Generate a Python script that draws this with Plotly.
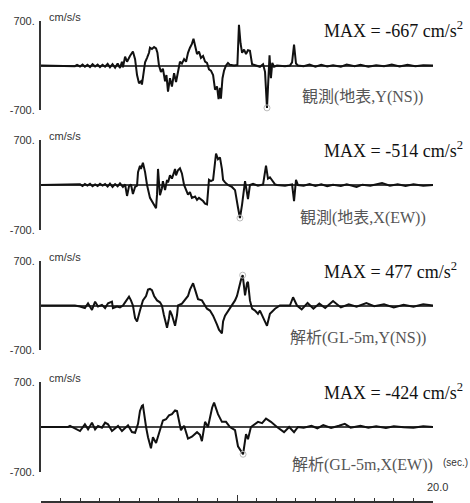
import plotly.graph_objects as go

W, H = 470, 503

# ---------------- data (time [s], acceleration [cm/s/s]) ----------------
obs_ns_t = [0, 1.58, 1.73, 1.84, 1.99, 2.12, 2.24, 2.37, 2.5, 2.63, 2.76, 2.89, 3.01, 3.14, 3.27, 3.4,
            3.52, 3.65, 3.78, 3.91, 4.03, 4.13, 4.18, 4.29, 4.39, 4.54, 4.69, 4.80, 4.90, 5.00,
            5.10, 5.15, 5.23, 5.31, 5.41, 5.51, 5.56, 5.66, 5.77, 5.87, 5.94, 6.02, 6.12, 6.22,
            6.33, 6.40, 6.48, 6.58, 6.68, 6.79, 6.89, 6.99, 7.09, 7.19, 7.30, 7.40, 7.50, 7.60,
            7.70, 7.78, 7.86, 7.96, 8.06, 8.16, 8.27, 8.37, 8.47, 8.57, 8.67, 8.78, 8.88, 8.98,
            9.06, 9.13, 9.18, 9.26, 9.34, 9.44, 9.54, 9.64, 9.85, 10.02, 10.10, 10.18, 10.26,
            10.36, 10.46, 10.56, 10.66, 10.77, 10.97, 11.17, 11.33, 11.43, 11.53, 11.60, 11.66,
            11.73, 11.80, 11.89, 12.04, 12.45, 12.70, 12.81, 12.91, 13.01, 13.11,
            13.4, 13.7, 14.0, 14.3, 14.6, 14.9, 15.3, 15.6, 16.0, 16.3, 16.7, 17.1, 17.5, 17.9,
            18.3, 18.7, 19.1, 19.5, 20.0]
obs_ns_a = [0, 0, -10, 10, -15, 15, -20, 10, -25, 20, -15, 15, -25, 10, -20, 25,
            -30, 20, -35, 30, -40, 60, -30, 140, 60, 150, 220, 100, -150, -280,
            -250, -300, -100, 50, 120, 200, 280, 260, 290, 270, 200, 0, -100, -50,
            -250, -150, -410, -200, -330, -120, -260, -90, 60, 30, 100, 60, 200, 280,
            340, 420, 300, 180, 220, 120, 150, 60, 40, -60, -80, -150, -380, -330,
            -530, -350, -520, -200, -80, 0, 40, 10, 0, 10, 640, 350, 200,
            250, 180, 240, 230, 20, 0, -20, 20, -100, -667, -150, 160,
            -200, 40, -20, 0, -10, 0, 50, 330, 30, 0,
            -10, 15, -20, 10, -15, 5, -20, 15, -10, 10, -20, 5, -10, 15,
            -15, 10, -10, 5, 0]

obs_ew_t = [0, 1.84, 1.99, 2.12, 2.24, 2.37, 2.5, 2.63, 2.76, 2.89, 3.01, 3.14, 3.27, 3.4, 3.52,
            3.65, 3.78, 3.91, 4.03, 4.18, 4.29, 4.39, 4.49, 4.59, 4.69, 4.80, 4.90, 4.95, 5.05,
            5.10, 5.20, 5.31, 5.41, 5.56, 5.66, 5.77, 5.87, 5.92, 5.97, 6.07, 6.17, 6.22, 6.33,
            6.43, 6.48, 6.58, 6.68, 6.79, 6.84, 6.89, 6.99, 7.09, 7.19, 7.30, 7.40, 7.50, 7.60,
            7.70, 7.86, 7.96, 8.06, 8.27, 8.37, 8.47, 8.57, 8.67, 8.78, 8.88, 8.93, 9.03, 9.13,
            9.23, 9.29, 9.39, 9.54, 9.74, 9.90, 10.05, 10.15, 10.26, 10.41, 10.51, 10.56, 10.66,
            10.82, 11.07, 11.33, 11.48, 11.58, 11.68, 11.79, 11.94, 12.04, 12.45, 12.81, 12.91,
            13.01, 13.11,
            13.4, 13.7, 14.0, 14.3, 14.6, 14.9, 15.3, 15.6, 16.1, 16.4, 16.8, 17.1, 17.4, 17.8,
            18.2, 18.6, 19.0, 19.5, 20.0]
obs_ew_a = [0, 0, 10, -15, 15, -10, 20, -20, 10, -15, 20, -10, 15, -25, 20,
            -30, 15, -20, 25, -30, 10, -170, -20, 10, -140, -30, -10, 200, 300,
            250, 345, 200, 0, -200, -260, -300, -360, -150, 250, -160, -50, 60, -80,
            80, 40, 150, 100, 200, 250, 150, 230, 260, 180, 0, -80, -150, -110,
            -200, -180, -230, -200, -250, -290, -300, 80, 60, 80, 300, 490, 400, 430,
            250, 80, 40, 0, -30, -80, -350, -514, -300, 60, -120, -220, 0,
            20, -10, 10, 300, 100, 120, 80, 10, 0, -10, 10, -250,
            80, 0,
            -10, 15, -15, 10, -20, 5, -15, 10, -30, 5, -10, 15, 30, -10,
            10, -15, 10, -10, 0]

ana_ns_t = [0, 1.73, 1.99, 2.24, 2.40, 2.60, 2.76, 2.91, 3.11, 3.27, 3.42, 3.62, 3.67, 3.88, 4.03,
            4.18, 4.29, 4.39, 4.49, 4.59, 4.69, 4.80, 4.90, 5.05, 5.20, 5.36, 5.46, 5.56, 5.66,
            5.77, 5.92, 6.07, 6.17, 6.27, 6.43, 6.53, 6.58, 6.68, 6.79, 6.84, 6.94, 6.99, 7.19,
            7.35, 7.50, 7.60, 7.76, 7.86, 8.01, 8.21, 8.47, 8.62, 8.78, 8.98, 9.08, 9.23, 9.29,
            9.39, 9.64, 9.90, 10.00, 10.10, 10.20, 10.29, 10.36, 10.41, 10.51, 10.56, 10.66,
            10.77, 10.92, 11.07, 11.17, 11.33, 11.53, 11.68, 11.94, 12.19, 12.70, 12.86, 13.06,
            13.3, 13.6, 13.9, 14.2, 14.5, 14.9, 15.3, 15.7, 16.1, 16.6, 17.0, 17.5, 18.0, 18.5,
            19.0, 19.5, 20.0]
ana_ns_a = [0, 0, -15, -40, 35, -70, 60, -15, 10, -40, 35, 60, -40, -15, -30,
            0, 50, 100, 140, 80, 0, -200, -250, -80, 80, 150, 250, 260, 240,
            150, 80, 50, 0, -150, -350, -200, -80, -150, -300, -320, -150, 0, 30,
            100, 150, 250, 350, 250, 100, 80, -50, -80, -160, -300, -380, -440, -250,
            -160, -50, 80, 150, 300, 400, 477, 300, 160, 350, 370, 80,
            -50, -80, -130, -80, -200, -320, -130, -50, 0, 0, 130, 0,
            -60, 40, -50, 30, -40, 70, -30, 20, -20, 40, -10, 20, -30, 10,
            -20, 20, 0]

ana_ew_t = [0, 1.38, 1.48, 1.73, 1.99, 2.24, 2.40, 2.60, 2.76, 2.91, 3.11, 3.27, 3.42, 3.62, 3.78,
            3.93, 4.13, 4.29, 4.44, 4.64, 4.80, 4.95, 5.05, 5.15, 5.20, 5.36, 5.46, 5.61, 5.71,
            5.87, 6.07, 6.22, 6.38, 6.53, 6.68, 6.84, 6.94, 7.04, 7.14, 7.30, 7.50, 7.70, 7.96,
            8.11, 8.21, 8.37, 8.52, 8.73, 8.83, 9.03, 9.23, 9.44, 9.64, 9.90, 10.05, 10.31,
            10.46, 10.56, 10.71, 11.07, 11.28, 11.48, 11.73, 12.04, 12.40, 12.66, 12.91, 13.11,
            13.4, 13.8, 14.1, 14.4, 14.8, 15.2, 15.5, 15.8, 16.3, 16.7, 17.1, 17.6, 18.0, 18.5,
            19.0, 19.5, 20.0]
ana_ew_a = [0, 0, 16, -26, -63, 42, -37, 68, -37, 16, -10, 68, 42, -63, -26,
            16, -63, -10, 26, -79, -89, 50, 250, 330, 340, 0, -160, -330, -160,
            -250, -50, 100, 120, 180, 200, 260, 250, 80, -50, 20, -180, -150, -80,
            -120, -220, 80, 0, 300, 380, 200, 80, 80, 0, -50, -300, -424,
            -110, -190, 0, 80, 60, 130, 80, 0, -80, 0, -80, 0,
            -10, 20, -20, 30, -15, 20, 50, -10, 20, -10, 10, -15, 10, -5,
            -10, 10, 0]

series_t = [obs_ns_t, obs_ew_t, ana_ns_t, ana_ew_t]
series_a = [obs_ns_a, obs_ew_a, ana_ns_a, ana_ew_a]
max_labels = ["MAX = -667 cm/s<sup>2</sup>", "MAX = -514 cm/s<sup>2</sup>",
              "MAX = 477 cm/s<sup>2</sup>", "MAX = -424 cm/s<sup>2</sup>"]
case_labels = ["観測(地表,Y(NS))", "観測(地表,X(EW))",
               "解析(GL-5m,Y(NS))", "解析(GL-5m,X(EW))"]
y_ticks = [-700, 700]
y_ticktext = ["-700.", "700."]
unit_label = "cm/s/s"

# ---------------- layout helpers (pixel -> paper) ----------------
def px(x):
    return x / W

def py(y):
    return 1 - y / H

panel_px = [(21, 110), (140, 230), (261, 350), (382, 472)]
label_x = [362, 363, 358, 362]
label_y = [97, 218, 338, 465]

fig = go.Figure()
for i in range(4):
    t, a = series_t[i], series_a[i]
    ya = "y" if i == 0 else f"y{i+1}"
    fig.add_trace(go.Scatter(x=t, y=a, mode="lines", xaxis="x", yaxis=ya,
                             line=dict(color="#111", width=2), showlegend=False,
                             hoverinfo="skip"))
    k = max(range(len(a)), key=lambda j: abs(a[j]))
    fig.add_trace(go.Scatter(x=[t[k]], y=[a[k]], mode="markers", xaxis="x", yaxis=ya,
                             marker=dict(symbol="circle-open", size=6, color="#bbb",
                                         line=dict(width=1)),
                             showlegend=False, hoverinfo="skip", cliponaxis=False))

layout = dict(
    width=W, height=H, margin=dict(l=0, r=0, t=0, b=0, autoexpand=False),
    paper_bgcolor="white", plot_bgcolor="white",
    xaxis=dict(domain=[px(41), px(433)], range=[0, 20], anchor="free", position=py(502),
               automargin=False,
               showline=True, linecolor="#333", linewidth=1.5, showgrid=False, zeroline=False,
               ticks="inside", tickvals=[0, 10, 20], ticklen=6, tickwidth=1.2, tickcolor="#333",
               showticklabels=False,
               minor=dict(dtick=1, ticks="inside", ticklen=3, tickwidth=1, tickcolor="#333")),
)
for i, (top, bot) in enumerate(panel_px):
    name = "yaxis" if i == 0 else f"yaxis{i+1}"
    layout[name] = dict(domain=[py(bot), py(top)], range=[-700, 700], anchor="x",
                        automargin=False,
                        showline=True, linecolor="#333", linewidth=2, showgrid=False,
                        zeroline=True, zerolinecolor="#444", zerolinewidth=1.6,
                        ticks="inside", tickvals=y_ticks, ticktext=y_ticktext, ticklen=4,
                        tickwidth=2, tickcolor="#333", ticklabelstandoff=2,
                        tickfont=dict(family="Arial, Liberation Sans", size=11, color="#333"))
fig.update_layout(**layout)

ann = []
for i, (top, bot) in enumerate(panel_px):
    ann.append(dict(x=px(47), y=py(top - 4), xref="paper", yref="paper", text=unit_label,
                    showarrow=False, xanchor="left", yanchor="middle",
                    font=dict(family="Arial, Liberation Sans", size=11, color="#333")))
    ann.append(dict(x=px(322), y=py(top + 9), xref="paper", yref="paper", text=max_labels[i],
                    showarrow=False, xanchor="left", yanchor="middle",
                    font=dict(family="Liberation Serif, Times New Roman, serif", size=18,
                              color="#111")))
    ann.append(dict(x=px(label_x[i]), y=py(label_y[i]), xref="paper", yref="paper",
                    text=case_labels[i], showarrow=False, xanchor="center", yanchor="middle",
                    font=dict(family="Liberation Serif, Noto Sans CJK JP", size=16, color="#555")))
ann.append(dict(x=px(437), y=py(487), xref="paper", yref="paper", text="20.0", showarrow=False,
                xanchor="center", yanchor="middle",
                font=dict(family="Arial, Liberation Sans", size=11, color="#333")))
ann.append(dict(x=px(441), y=py(462), xref="paper", yref="paper", text="(sec.)", showarrow=False,
                xanchor="left", yanchor="middle",
                font=dict(family="Arial, Liberation Sans", size=10, color="#333")))
fig.update_layout(annotations=ann)

fig.write_html("out.html")
